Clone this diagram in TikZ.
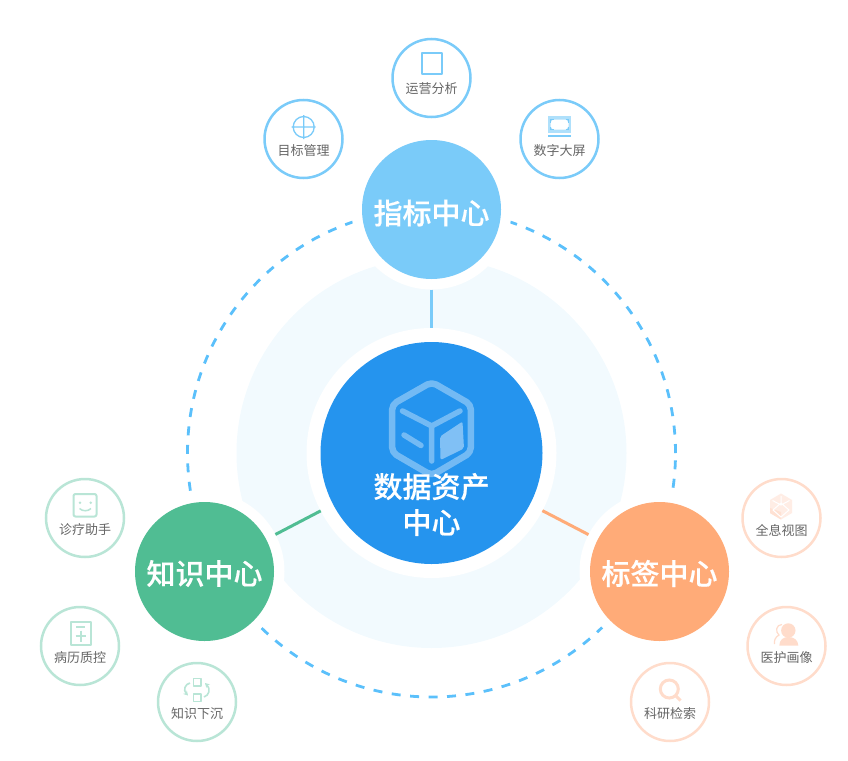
\documentclass[tikz,border=0pt]{standalone}
\usepackage{fontspec}
\setmainfont{Noto Sans CJK SC}
\newfontfamily\hubfont[FakeBold=0.35]{Noto Sans CJK SC Medium}
\usetikzlibrary{arrows.meta}
\definecolor{coreblue}{HTML}{2594EE}
\definecolor{paleblue}{HTML}{F2FAFE}
\definecolor{skyblue}{HTML}{7ACBF9}
\definecolor{dashblue}{HTML}{5BC0FB}
\definecolor{leafgreen}{HTML}{50BD93}
\definecolor{softgreen}{HTML}{B9E5D6}
\definecolor{peach}{HTML}{FFAB78}
\definecolor{softpeach}{HTML}{FFDCCB}
\definecolor{labelgray}{HTML}{666666}
\tikzset{
  halo/.style={circle,fill=white,minimum size=#1,inner sep=0pt,outer sep=0pt},
  hub/.style={circle,fill=#1,minimum size=139pt,inner sep=0pt,outer sep=0pt},
  hubtext/.style={text=white,font=\fontsize{29}{36}\selectfont\hubfont,inner sep=0pt,align=center},
  leaf/.style={circle,draw=#1,line width=2.5pt,fill=white,minimum size=78pt,inner sep=0pt},
  leaflabel/.style={text=labelgray,font=\fontsize{13}{15}\selectfont,inner sep=0pt},
  link/.style={line width=3pt,#1},
  icon/.style={line width=2pt,#1,line join=round,fill=none},
  cubeline/.style={line width=5.5pt,white,opacity=.36,line cap=round,line join=round},
}
\begin{document}
\begin{tikzpicture}[x=1pt,y=-1pt]
\useasboundingbox (0,0) rectangle (848,760);
\coordinate (mid) at (431.5,453);
% pale disc and dashed ring
\fill[paleblue] (mid) circle[radius=195pt];
\draw[dashblue,line width=2.8pt,dash pattern=on 9pt off 9.5pt] (mid) circle[radius=244pt];
% halos
\node[halo=160pt] (topH) at (431.5,209.5) {};
\node[halo=160pt] (leftH) at (204.5,571.5) {};
\node[halo=160pt] (rightH) at (659.5,571.5) {};
\node[halo=250pt] (coreH) at (mid) {};
% connectors
\draw[link=skyblue] (topH) -- (coreH);
\draw[link=leafgreen] (leftH) -- (coreH);
\draw[link=peach] (rightH) -- (coreH);
% hubs
\node[circle,fill=coreblue,minimum size=222pt,inner sep=0pt] (core) at (mid) {};
\node[hub=skyblue] (top) at (431.5,209.5) {};
\node[hub=leafgreen] (left) at (204.5,571.5) {};
\node[hub=peach] (right) at (659.5,571.5) {};
\node[hubtext] (topt) at (431.5,213) {指标中心};
\node[hubtext] (leftt) at (204.5,573.5) {知识中心};
\node[hubtext] (rightt) at (659.5,573.5) {标签中心};
% cube icon
\draw[cubeline,line width=6.5pt,rounded corners=5pt] (431.7,382) -- (470.8,404.5) -- (470.8,452.5) -- (431.7,475.5) -- (392.2,452.5) -- (392.2,404.5) -- cycle;
\draw[cubeline] (402.5,411) -- (431.7,426) -- (460,411) (431.7,426) -- (431.7,461);
\draw[cubeline] (404,435) -- (421,445.5);
\fill[white,opacity=.42,rounded corners=2pt] (440,436.5) -- (462.5,421.5) -- (464,448.5) -- (440.5,460) -- cycle;
\node[hubtext] (coretext) at (431.5,504.5) {数据资产\\中心};
% leaves blue
\node[leaf=skyblue] (yy) at (431.5,78) {};
\node[leaf=skyblue] (mb) at (303.5,139) {};
\node[leaf=skyblue] (dp) at (559.5,139) {};
\node[leaflabel] (yyt) at (431.5,88.5) {运营分析};
\node[leaflabel] (mbt) at (303.5,150.5) {目标管理};
\node[leaflabel] (dpt) at (559.5,150.5) {数字大屏};
% leaves green
\node[leaf=softgreen] (zl) at (85,518) {};
\node[leaf=softgreen] (bl) at (80,646) {};
\node[leaf=softgreen] (zs) at (197,702) {};
\node[leaflabel] (zlt) at (85,530) {诊疗助手};
\node[leaflabel] (blt) at (80,658) {病历质控};
\node[leaflabel] (zst) at (197,714) {知识下沉};
% leaves peach
\node[leaf=softpeach] (qx) at (781.5,518) {};
\node[leaf=softpeach] (yh) at (786.5,646) {};
\node[leaf=softpeach] (ky) at (670,702) {};
\node[leaflabel] (qxt) at (781.5,530) {全息视图};
\node[leaflabel] (yht) at (786.5,658) {医护画像};
\node[leaflabel] (kyt) at (670,714) {科研检索};
% blue icons
\draw[icon=skyblue] (421.7,53) rectangle (442,74);
\draw[icon=skyblue,line width=1.3pt] (303.7,127) circle[radius=10.5pt] (291.5,127) -- (315.5,127) (303.7,115) -- (303.7,139);
\fill[skyblue!60] (548,116) rectangle (571,133);
\fill[white] (553,119.5) -- (566,119.5) -- (568.5,122.5) -- (568.5,126.5) -- (566,129.5) -- (553,129.5) -- (550.5,126.5) -- (550.5,122.5) -- cycle;
\draw[skyblue,line width=1.2pt] (553.5,119.5) -- (550.5,119.5) -- (550.5,122.5) (565.5,119.5) -- (568.5,119.5) -- (568.5,122.5) (553.5,129.5) -- (550.5,129.5) -- (550.5,126.5) (565.5,129.5) -- (568.5,129.5) -- (568.5,126.5);
\draw[skyblue,line width=1.5pt] (548,136) -- (571,136);
% green icons
\draw[icon=softgreen,rounded corners=2pt] (73.5,494) rectangle (96.5,516.5);
\fill[softgreen] (80,502.7) circle[radius=1.4pt] (90.7,502.7) circle[radius=1.4pt];
\draw[softgreen,line width=1.5pt] (79.5,508.5) .. controls (82.5,511.5) and (88,511.5) .. (91,508.5);
\draw[icon=softgreen] (71,622) rectangle (91,645);
\draw[softgreen,line width=1.6pt] (76,626.7) -- (85,626.7) (75.5,636) -- (86,636) (80.7,630.5) -- (80.7,641.5);
\draw[icon=softgreen,line width=1.6pt] (193.3,678.3) rectangle (200.7,685.7) (193.3,694) rectangle (200.7,701.3);
\draw[softgreen,line width=1.6pt,-{Stealth[length=4.5pt,width=5pt]}] (190,683) .. controls (185,684) and (183,690) .. (188,695.5);
\draw[softgreen,line width=1.6pt,-{Stealth[length=4.5pt,width=5pt]}] (204,697) .. controls (209,695.5) and (211,689) .. (205,683);
% peach icons
\fill[softpeach!50] (781,493.5) -- (792,500) -- (792,513) -- (781,519.5) -- (770,513) -- (770,500) -- cycle;
\fill[softpeach!85] (770,508) -- (781,512) -- (781,519.5) -- (770,513) -- cycle;
\draw[white,line width=1pt] (781,496) -- (781,505) (772.5,500.5) -- (781,505) -- (789.5,500.5) (773,510) -- (781,503) -- (789,510) -- (781,517) -- cycle;
\fill[softpeach] (788.3,630.5) circle[radius=7.2pt];
\fill[softpeach] (779.3,645.5) .. controls (779.5,640) and (783,637) .. (788.3,637) .. controls (794,637) and (798,640) .. (798.3,645.5) -- cycle;
\draw[softpeach,line width=1.2pt] (782,624.5) .. controls (776,624.5) and (775,632) .. (779,635) .. controls (775,637) and (774,641) .. (774.5,644);
\draw[softpeach,line width=3pt] (669.3,689) circle[radius=9pt];
\draw[softpeach,line width=3pt] (676,696) -- (680.5,700.5);
\end{tikzpicture}
\end{document}
